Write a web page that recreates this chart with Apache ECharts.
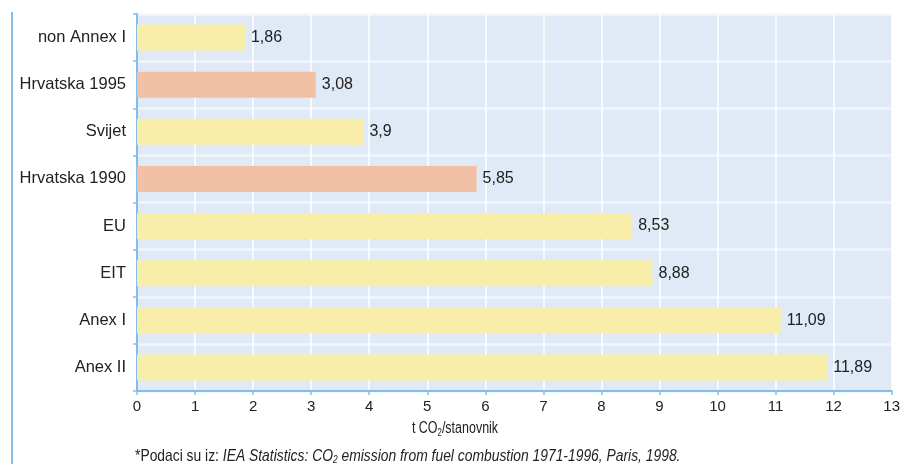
<!DOCTYPE html>
<html>
<head>
<meta charset="utf-8">
<script src="https://cdn.jsdelivr.net/npm/echarts@6/dist/echarts.min.js"></script>
<style>
  html, body { margin: 0; padding: 0; background: #ffffff; }
  #chart { width: 903px; height: 464px; }
</style>
</head>
<body>
<div id="chart"></div>
<script>
// Emissions per capita, top to bottom
const categories = ['non Annex I', 'Hrvatska 1995', 'Svijet', 'Hrvatska 1990', 'EU', 'EIT', 'Anex I', 'Anex II'];
const values = [1.86, 3.08, 3.9, 5.85, 8.53, 8.88, 11.09, 11.89];
const xTicks = [0, 1, 2, 3, 4, 5, 6, 7, 8, 9, 10, 11, 12, 13];
const croatiaRows = ['Hrvatska 1995', 'Hrvatska 1990'];

const YELLOW = '#f8eeaa';
const SALMON = '#f2c1a5';
const AXIS_BLUE = '#84bde9';
const SANS = '"Liberation Sans", Arial, Helvetica, sans-serif';

const chart = echarts.init(document.getElementById('chart'), null, { renderer: 'canvas' });

chart.setOption({
  animation: false,
  grid: {
    left: 137, right: 9, top: 14, bottom: 73,
    show: true, backgroundColor: '#dfeaf6', borderWidth: 0
  },
  xAxis: {
    type: 'value',
    min: xTicks[0],
    max: xTicks[xTicks.length - 1],
    interval: 1,
    axisLine: { show: true, lineStyle: { color: AXIS_BLUE, width: 2 } },
    axisTick: { show: true, length: 4, lineStyle: { color: AXIS_BLUE, width: 1.5 } },
    axisLabel: { color: '#222', fontSize: 15, fontFamily: SANS, margin: 8 },
    splitLine: { show: true, lineStyle: { color: '#ffffff', width: 1.5 } }
  },
  yAxis: {
    type: 'category',
    data: categories,
    inverse: true,
    axisLine: { show: true, lineStyle: { color: AXIS_BLUE, width: 2 } },
    axisTick: { show: true, length: 4, lineStyle: { color: AXIS_BLUE, width: 1.5 } },
    axisLabel: { color: '#222', fontSize: 16.5, fontFamily: SANS, margin: 11 },
    splitLine: { show: true, lineStyle: { color: '#f2f6fb', width: 2.5 } }
  },
  series: [{
    type: 'bar',
    data: values,
    barWidth: 26,
    itemStyle: {
      color: function (p) { return croatiaRows.indexOf(p.name) >= 0 ? SALMON : YELLOW; }
    },
    label: {
      show: true,
      position: 'right',
      distance: 6,
      color: '#222',
      fontSize: 16,
      fontFamily: SANS,
      formatter: function (p) { return String(p.value).replace('.', ','); }
    }
  }],
  graphic: [
    {
      type: 'line',
      shape: { x1: 12, y1: 12, x2: 12, y2: 464 },
      style: { stroke: AXIS_BLUE, lineWidth: 2 }
    },
    {
      // value axis title: t CO2/stanovnik (condensed)
      type: 'text',
      x: 455, y: 429,
      scaleX: 0.78,
      style: {
        text: '{a|t CO}{s|2}{a|/stanovnik}',
        textAlign: 'center',
        textVerticalAlign: 'middle',
        rich: {
          a: { fontSize: 16, fill: '#222', fontFamily: SANS },
          s: { fontSize: 10, fill: '#222', fontFamily: SANS, padding: [8, 0, 0, 0] }
        }
      }
    },
    {
      // source note (condensed)
      type: 'text',
      x: 135, y: 456,
      scaleX: 0.84,
      style: {
        text: '{n|*Podaci su iz: }{i|IEA Statistics: CO}{is|2}{i| emission from fuel combustion 1971-1996, Paris, 1998.}',
        textAlign: 'left',
        textVerticalAlign: 'middle',
        rich: {
          n: { fontSize: 16.5, fill: '#222', fontFamily: SANS },
          i: { fontSize: 16.5, fill: '#222', fontFamily: SANS, fontStyle: 'italic' },
          is: { fontSize: 10, fill: '#222', fontFamily: SANS, fontStyle: 'italic', padding: [8, 0, 0, 0] }
        }
      }
    }
  ]
});
</script>
</body>
</html>
